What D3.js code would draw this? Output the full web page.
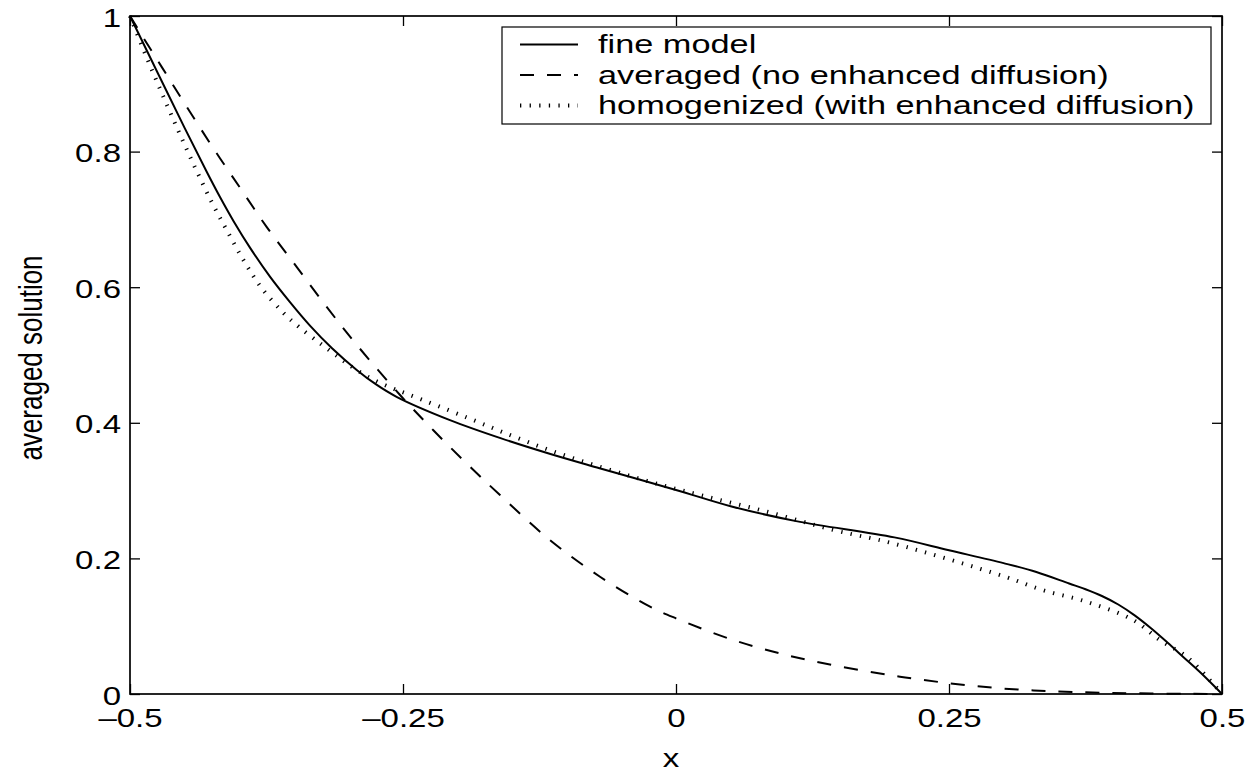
<!DOCTYPE html>
<html>
<head>
<meta charset="utf-8">
<script src="https://cdn.jsdelivr.net/npm/d3@7"></script>
<style>
  html, body { margin: 0; padding: 0; background: #fff; }
  svg { display: block; }
  text { font-family: "Liberation Sans", Arial, Helvetica, sans-serif; fill: #000; }
</style>
</head>
<body>
<svg id="chart" width="1252" height="774"></svg>
<script>
// Averaged solution profiles on [-0.5, 0.5]
const fineX = [-0.5, -0.45, -0.43, -0.4176, -0.405, -0.39, -0.372, -0.3535, -0.335, -0.315, -0.2924, -0.275, -0.2555, -0.207, -0.16, -0.115, -0.07, 0, 0.05, 0.11, 0.2, 0.25, 0.3, 0.33, 0.36, 0.375, 0.39, 0.405, 0.42, 0.435, 0.45, 0.465, 0.48, 0.5];
const fineY = [1.0, 0.835, 0.771, 0.733, 0.697, 0.658, 0.616, 0.578, 0.543, 0.51, 0.478, 0.457, 0.438, 0.404, 0.377, 0.354, 0.333, 0.301, 0.277, 0.255, 0.231, 0.212, 0.193, 0.18, 0.163, 0.1545, 0.1445, 0.132, 0.116, 0.097, 0.076, 0.054, 0.032, 0];

const avgX = [-0.5, -0.4878, -0.471, -0.4496, -0.4237, -0.3977, -0.3749, -0.3474, -0.3199, -0.2924, -0.2527, -0.2222, -0.1917, -0.1612, -0.1154, -0.0696, -0.0238, 0, 0.0525, 0.1136, 0.2051, 0.2967, 0.388, 0.5];
const avgY = [1.0, 0.968, 0.925, 0.87, 0.805, 0.743, 0.689, 0.63, 0.571, 0.515, 0.441, 0.389, 0.34, 0.2935, 0.227, 0.173, 0.1288, 0.1116, 0.0796, 0.0527, 0.0256, 0.0084, 0.002, 0];

const homX = [-0.5, -0.485, -0.47, -0.455, -0.44, -0.425, -0.41, -0.395, -0.38, -0.36, -0.345, -0.325, -0.31, -0.3, -0.28, -0.26, -0.2436, -0.1917, -0.1459, -0.1002, -0.0238, 0.022, 0.083, 0.144, 0.199, 0.3013, 0.3363, 0.376, 0.4188, 0.4432, 0.4676, 0.486, 0.5];
const homY = [1.0, 0.94, 0.883, 0.828, 0.775, 0.725, 0.68, 0.637, 0.6, 0.563, 0.541, 0.516, 0.498, 0.486, 0.466, 0.451, 0.441, 0.408, 0.378, 0.351, 0.313, 0.2935, 0.269, 0.242, 0.222, 0.173, 0.153, 0.136, 0.109, 0.0796, 0.055, 0.0255, 0];

const xTicks = [-0.5, -0.25, 0, 0.25, 0.5];
const xTickLabels = ["\u20130.5", "\u20130.25", "0", "0.25", "0.5"];
const yTicks = [0, 0.2, 0.4, 0.6, 0.8, 1];
const yTickLabels = ["0", "0.2", "0.4", "0.6", "0.8", "1"];

const seriesNames = ["fine model", "averaged (no enhanced diffusion)", "homogenized (with enhanced diffusion)"];
const xLabel = "x";
const yLabel = "averaged solution";

// Layout
const plot = { left: 130, right: 1222, top: 16, bottom: 694 };
const fontSize = 26;
const tickStretch = 1.27;       // wide glyphs of the original rendering
const legendStretch = 1.32;
const tickLen = 10;

const svg = d3.select("#chart");

const x = d3.scaleLinear().domain([-0.5, 0.5]).range([plot.left, plot.right]);
const y = d3.scaleLinear().domain([0, 1]).range([plot.bottom, plot.top]);

const styles = [
  { dash: null, width: 2 },
  { dash: "14,13", width: 2 },
  { dash: "1.3,8.3", width: 4 }
];

// Curves
const line = d3.line().x(d => x(d[0])).y(d => y(d[1])).curve(d3.curveCatmullRom.alpha(0.5));
const series = [
  d3.zip(fineX, fineY),
  d3.zip(avgX, avgY),
  d3.zip(homX, homY)
];
svg.append("g").selectAll("path").data(series).join("path")
  .attr("d", line)
  .attr("fill", "none")
  .attr("stroke", "#000")
  .attr("stroke-width", (d, i) => styles[i].width)
  .attr("stroke-dasharray", (d, i) => styles[i].dash)
  .attr("stroke-linejoin", "round");

// Axes: inward ticks on all four sides
function styleAxis(g) {
  g.select(".domain").remove();
  g.selectAll(".tick line").attr("stroke", "#000").attr("stroke-width", 1.3);
}
const xFmt = (d) => xTickLabels[xTicks.indexOf(d)];
const yFmt = (d) => yTickLabels[yTicks.indexOf(d)];

const gx = svg.append("g").attr("transform", `translate(0,${plot.bottom})`)
  .call(d3.axisBottom(x).tickValues(xTicks).tickFormat(xFmt).tickSize(-tickLen))
  .call(styleAxis);
gx.selectAll(".tick text")
  .attr("y", 0).attr("dy", null)
  .attr("font-size", fontSize)
  .attr("font-family", null)
  .attr("transform", `translate(0,33) scale(${tickStretch},1)`);

const gy = svg.append("g").attr("transform", `translate(${plot.left},0)`)
  .call(d3.axisLeft(y).tickValues(yTicks).tickFormat(yFmt).tickSize(-tickLen))
  .call(styleAxis);
gy.selectAll(".tick text")
  .attr("x", 0).attr("dy", null).attr("y", 0)
  .attr("font-size", fontSize)
  .attr("font-family", null)
  .attr("transform", `translate(-9,10) scale(${tickStretch},1)`);

svg.append("g").attr("transform", `translate(0,${plot.top})`)
  .call(d3.axisTop(x).tickValues(xTicks).tickFormat("").tickSize(-tickLen))
  .call(styleAxis);
svg.append("g").attr("transform", `translate(${plot.right},0)`)
  .call(d3.axisRight(y).tickValues(yTicks).tickFormat("").tickSize(-tickLen))
  .call(styleAxis);

// Frame
svg.append("rect")
  .attr("x", plot.left).attr("y", plot.top)
  .attr("width", plot.right - plot.left).attr("height", plot.bottom - plot.top)
  .attr("fill", "none").attr("stroke", "#000").attr("stroke-width", 1.7);

// Axis titles
svg.append("text")
  .attr("text-anchor", "middle")
  .attr("font-size", fontSize)
  .attr("transform", `translate(${(plot.left + plot.right) / 2 - 5},767) scale(${tickStretch},1)`)
  .text(xLabel);
svg.append("text")
  .attr("text-anchor", "middle")
  .attr("font-size", fontSize)
  .attr("transform", `translate(42,${(plot.top + plot.bottom) / 2 + 3}) rotate(-90) scale(1,${tickStretch})`)
  .text(yLabel);

// Legend
const legend = svg.append("g").attr("transform", "translate(502,27)");
legend.append("rect")
  .attr("width", 709).attr("height", 97)
  .attr("fill", "#fff").attr("stroke", "#000").attr("stroke-width", 1.2);
const rows = legend.selectAll("g.row").data(seriesNames).join("g")
  .attr("class", "row")
  .attr("transform", (d, i) => `translate(0,${26 + i * 30.5})`);
rows.append("line")
  .attr("x1", 18).attr("x2", 76).attr("y1", -8.5).attr("y2", -8.5)
  .attr("stroke", "#000")
  .attr("stroke-width", (d, i) => styles[i].width)
  .attr("stroke-dasharray", (d, i) => styles[i].dash);
rows.append("text")
  .attr("font-size", fontSize)
  .attr("transform", `translate(96,0) scale(${legendStretch},1)`)
  .text(d => d);
</script>
</body>
</html>
